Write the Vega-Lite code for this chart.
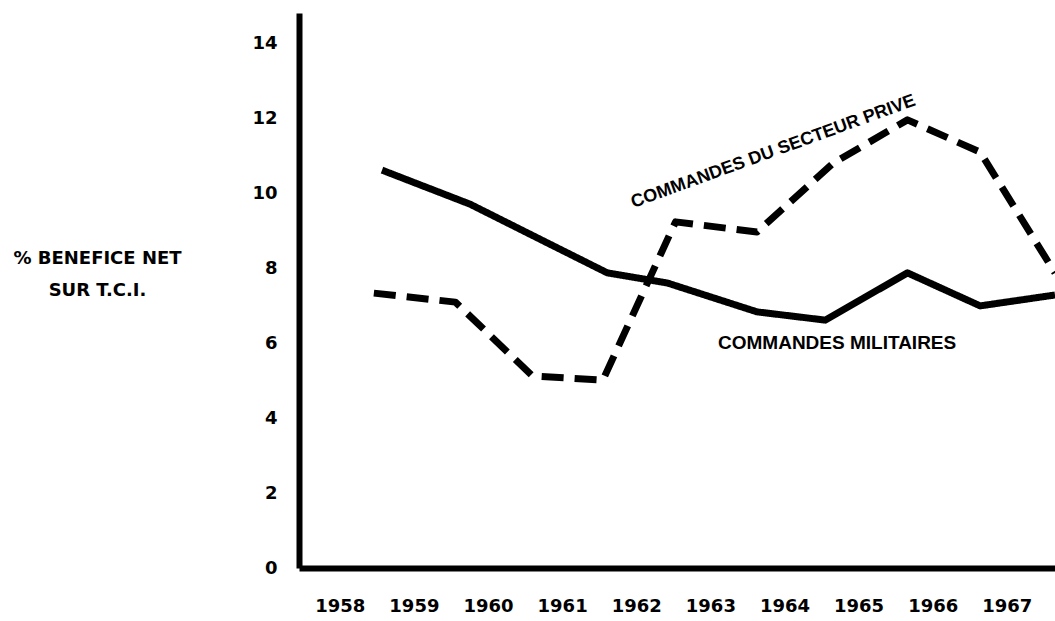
{
  "$schema": "https://vega.github.io/schema/vega-lite/v6.json",
  "autosize": {"type": "none"},
  "padding": {"left": 299, "top": 13, "right": 0, "bottom": 53},
  "width": 756,
  "height": 555,
  "background": "white",
  "config": {
    "view": {"stroke": null},
    "font": "DejaVu Sans"
  },
  "layer": [
    {
      "data": {
        "values": [
          {"serie": "militaires", "annee": 1958.57, "pct": 10.61},
          {"serie": "militaires", "annee": 1959.76, "pct": 9.7},
          {"serie": "militaires", "annee": 1960.77, "pct": 8.7},
          {"serie": "militaires", "annee": 1961.61, "pct": 7.87},
          {"serie": "militaires", "annee": 1962.42, "pct": 7.6},
          {"serie": "militaires", "annee": 1963.63, "pct": 6.83},
          {"serie": "militaires", "annee": 1964.55, "pct": 6.61},
          {"serie": "militaires", "annee": 1965.66, "pct": 7.87},
          {"serie": "militaires", "annee": 1966.64, "pct": 6.99},
          {"serie": "militaires", "annee": 1967.65, "pct": 7.28},
          {"serie": "prive", "annee": 1958.46, "pct": 7.33},
          {"serie": "prive", "annee": 1959.56, "pct": 7.09},
          {"serie": "prive", "annee": 1960.6, "pct": 5.12},
          {"serie": "prive", "annee": 1961.55, "pct": 5.01},
          {"serie": "prive", "annee": 1962.53, "pct": 9.23},
          {"serie": "prive", "annee": 1963.63, "pct": 8.96},
          {"serie": "prive", "annee": 1964.66, "pct": 10.8},
          {"serie": "prive", "annee": 1965.66, "pct": 11.95},
          {"serie": "prive", "annee": 1966.64, "pct": 11.09},
          {"serie": "prive", "annee": 1967.65, "pct": 7.87}
        ]
      },
      "mark": {"type": "line", "color": "black", "strokeWidth": 7, "strokeJoin": "round", "strokeCap": "butt", "clip": false},
      "encoding": {
        "x": {
          "field": "annee",
          "type": "quantitative",
          "scale": {"domain": [1957.45, 1967.65], "nice": false, "zero": false},
          "axis": {
            "title": null,
            "values": [1958, 1959, 1960, 1961, 1962, 1963, 1964, 1965, 1966, 1967],
            "format": "d",
            "grid": false,
            "ticks": false,
            "tickSize": 0,
            "domainColor": "black",
            "domainWidth": 6,
            "labelFont": "DejaVu Sans",
            "labelFontWeight": "bold",
            "labelFontSize": 18,
            "labelColor": "black",
            "labelBaseline": "middle",
            "labelPadding": 38,
            "labelOverlap": false
          }
        },
        "y": {
          "field": "pct",
          "type": "quantitative",
          "scale": {"domain": [0, 14.8], "nice": false},
          "axis": {
            "title": ["% BENEFICE NET", "SUR T.C.I."],
            "titleAngle": 0,
            "titleAlign": "center",
            "titleBaseline": "middle",
            "titleX": -202,
            "titleY": 245,
            "titleLineHeight": 32,
            "titleFont": "DejaVu Sans",
            "titleFontWeight": "bold",
            "titleFontSize": 18,
            "titleColor": "black",
            "values": [0, 2, 4, 6, 8, 10, 12, 14],
            "grid": false,
            "ticks": false,
            "tickSize": 0,
            "domainColor": "black",
            "domainWidth": 6,
            "labelFont": "DejaVu Sans",
            "labelFontWeight": "bold",
            "labelFontSize": 18,
            "labelColor": "black",
            "labelAlign": "right",
            "labelBaseline": "middle",
            "labelPadding": 22
          }
        },
        "strokeDash": {
          "field": "serie",
          "type": "nominal",
          "scale": {"domain": ["militaires", "prive"], "range": [[1, 0], [22, 11]]},
          "legend": null
        }
      }
    },
    {
      "data": {"values": [{"texte": "COMMANDES DU SECTEUR PRIVE", "annee": 1963.85, "pct": 11.1}]},
      "mark": {"type": "text", "angle": -20, "font": "Liberation Sans", "fontWeight": "bold", "fontSize": 18, "color": "black", "align": "center", "baseline": "middle"},
      "encoding": {
        "x": {"field": "annee", "type": "quantitative"},
        "y": {"field": "pct", "type": "quantitative"},
        "text": {"field": "texte"}
      }
    },
    {
      "data": {"values": [{"texte": "COMMANDES MILITAIRES", "annee": 1964.71, "pct": 6.0}]},
      "mark": {"type": "text", "font": "Liberation Sans", "fontWeight": "bold", "fontSize": 19, "color": "black", "align": "center", "baseline": "middle"},
      "encoding": {
        "x": {"field": "annee", "type": "quantitative"},
        "y": {"field": "pct", "type": "quantitative"},
        "text": {"field": "texte"}
      }
    }
  ]
}
